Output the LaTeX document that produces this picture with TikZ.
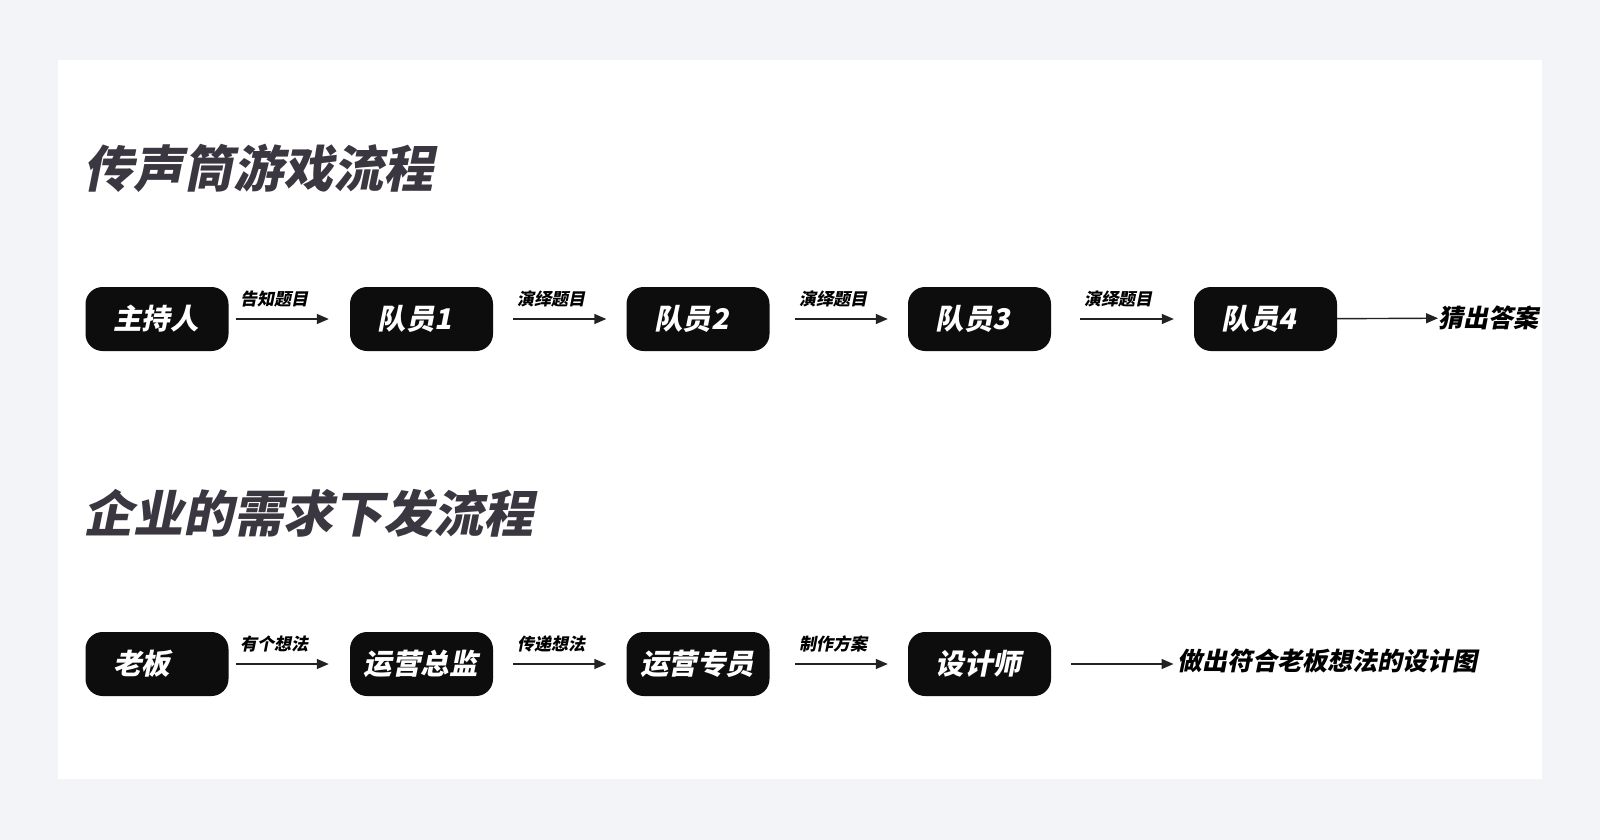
\documentclass[tikz,border=0pt]{standalone}
\usepackage{fontspec}
\usepackage{xcolor}
\usepackage{tikz}
\usetikzlibrary{arrows.meta,positioning}
\newfontfamily\cjk[FakeSlant=0.2]{Noto Sans CJK SC}
\definecolor{pagebg}{HTML}{F3F4F8}
\definecolor{ink}{HTML}{3A3740}
\definecolor{boxblk}{HTML}{0D0D0D}
\definecolor{line}{HTML}{222222}

\begin{document}
\begin{tikzpicture}[
  x=1pt,y=-1pt,
  box/.style={fill=boxblk,rounded corners=17pt,minimum width=143pt,minimum height=64pt,
              inner sep=0pt,text width=88pt,align=left,text=white,
              font={\cjk\bfseries\fontsize{28.5}{34}\selectfont}},
  wide/.style={text width=116pt},
  head/.style={anchor=west,inner sep=0pt,text=ink,font={\cjk\bfseries\fontsize{50}{60}\selectfont}},
  lbl/.style={anchor=west,inner sep=0pt,font={\cjk\bfseries\fontsize{17}{20}\selectfont}},
  res/.style={anchor=west,inner sep=0pt,font={\cjk\bfseries\fontsize{25}{30}\selectfont}},
  arr/.style={-{Triangle[length=12pt,width=10pt]},draw=line,line width=1.4pt}
]
\useasboundingbox (0,0) rectangle (1600,840);
\fill[pagebg] (0,0) rectangle (1600,840);
\fill[white] (58,60) rectangle (1542,779);

% 传声筒
\node[head] (h1) at (83,168) {传声筒游戏流程};
\node[box] (b1) at (157,319) {主持人};
\node[box] (b2) at (421.5,319) {队员1};
\node[box] (b3) at (698,319) {队员2};
\node[box] (b4) at (979.5,319) {队员3};
\node[box] (b5) at (1265.5,319) {队员4};
\node[res] (r1) at (1438,318) {猜出答案};
\draw[arr,shorten <=7pt,shorten >=21pt] (b1) -- (b2);
\draw[arr,shorten <=20pt,shorten >=20pt] (b2) -- (b3);
\draw[arr,shorten <=25.5pt,shorten >=20pt] (b3) -- (b4);
\draw[arr,shorten <=28.5pt,shorten >=20pt] (b4) -- (b5);
\draw[arr] (b5) -- (r1);
\node[lbl] (l1) at (240,299) {告知题目};
\node[lbl] (l2) at (517,299) {演绎题目};
\node[lbl] (l3) at (799,299) {演绎题目};
\node[lbl] (l4) at (1084,299) {演绎题目};

% 需求下发
\node[head] (h2) at (83,513) {企业的需求下发流程};
\node[box] (c1) at (157,664) {老板};
\node[box,wide] (c2) at (421.5,664) {运营总监};
\node[box,wide] (c3) at (698,664) {运营专员};
\node[box] (c4) at (979.5,664) {设计师};
\node[res] (r2) at (1177,661) {做出符合老板想法的设计图};
\draw[arr,shorten <=7pt,shorten >=21pt] (c1) -- (c2);
\draw[arr,shorten <=20pt,shorten >=20pt] (c2) -- (c3);
\draw[arr,shorten <=25.5pt,shorten >=20pt] (c3) -- (c4);
\draw[arr,shorten <=20pt,shorten >=3.5pt] (c4.east) -- (c4.east -| r2.west);
\node[lbl] (m1) at (240,644) {有个想法};
\node[lbl] (m2) at (517,644) {传递想法};
\node[lbl] (m3) at (799,644) {制作方案};
\end{tikzpicture}
\end{document}
